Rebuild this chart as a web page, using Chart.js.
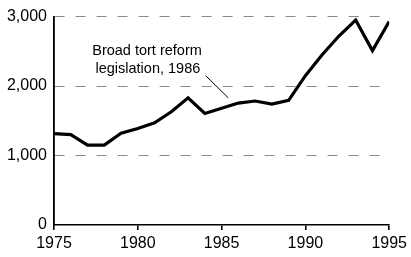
<!DOCTYPE html>
<html><head><meta charset="utf-8">
<script src="https://cdn.jsdelivr.net/npm/chart.js@4"></script>
<style>html,body{margin:0;padding:0;background:#fff}#wrap{width:411px;height:257px}</style>
</head><body><div id="wrap"><canvas id="c"></canvas></div>
<script>
const years=[1975,1976,1977,1978,1979,1980,1981,1982,1983,1984,1985,1986,1987,1988,1989,1990,1991,1992,1993,1994,1995];
const values=[1315,1300,1150,1150,1320,1390,1470,1630,1830,1605,1680,1755,1785,1740,1795,2150,2450,2720,2950,2510,2930];
const noteLines=['Broad tort reform','legislation, 1986'];
const font="'Liberation Sans', Arial, sans-serif";

const note={id:'note',afterDraw(ch){
  const c=ch.ctx, x=ch.scales.x, y=ch.scales.y;
  c.save(); c.fillStyle='#000'; c.font='14.5px '+font; c.textAlign='center';
  c.fillText(noteLines[0],x.getPixelForValue(1980.55),y.getPixelForValue(2450));
  c.fillText(noteLines[1],x.getPixelForValue(1980.6),y.getPixelForValue(2190));
  c.beginPath(); c.lineWidth=1; c.strokeStyle='#000';
  c.moveTo(x.getPixelForValue(1984.05),y.getPixelForValue(2150));
  c.lineTo(x.getPixelForValue(1985.4),y.getPixelForValue(1830));
  c.stroke(); c.restore();
}};

new Chart(document.getElementById('c'),{
  type:'line',
  data:{datasets:[{data:years.map((v,i)=>({x:v,y:values[i]})),borderColor:'#000',borderWidth:3.2,pointRadius:0,tension:0,fill:false}]},
  options:{responsive:true,maintainAspectRatio:false,animation:false,
    layout:{padding:{top:13,right:19,left:0,bottom:0}},
    plugins:{legend:{display:false},tooltip:{enabled:false}},
    scales:{
      x:{type:'linear',min:1975,max:1995,
        afterFit(s){s.height=32},
        ticks:{stepSize:5,color:'#000',font:{family:font,size:16},padding:4,callback:v=>String(v)},
        // only the 1975 line is drawn across the area: it is the y axis line
        grid:{drawOnChartArea:true,drawTicks:true,tickLength:5,lineWidth:1.6,
          color:ctx=>ctx.tick&&ctx.tick.value===1975?'#000':'rgba(0,0,0,0)',tickColor:'#000'},
        border:{color:'#000',width:1.5}},
      y:{min:0,max:3000,
        afterFit(s){s.width=54},
        ticks:{stepSize:1000,color:'#000',font:{family:font,size:16},padding:7,callback:v=>v.toLocaleString('en-US')},
        grid:{drawTicks:false,color:ctx=>ctx.tick&&ctx.tick.value===0?'rgba(0,0,0,0)':'#8a8a8a',lineWidth:1},
        border:{display:true,color:'#000',width:1.6,dash:[10,11]}}
    }},
  plugins:[note]
});
</script></body></html>
